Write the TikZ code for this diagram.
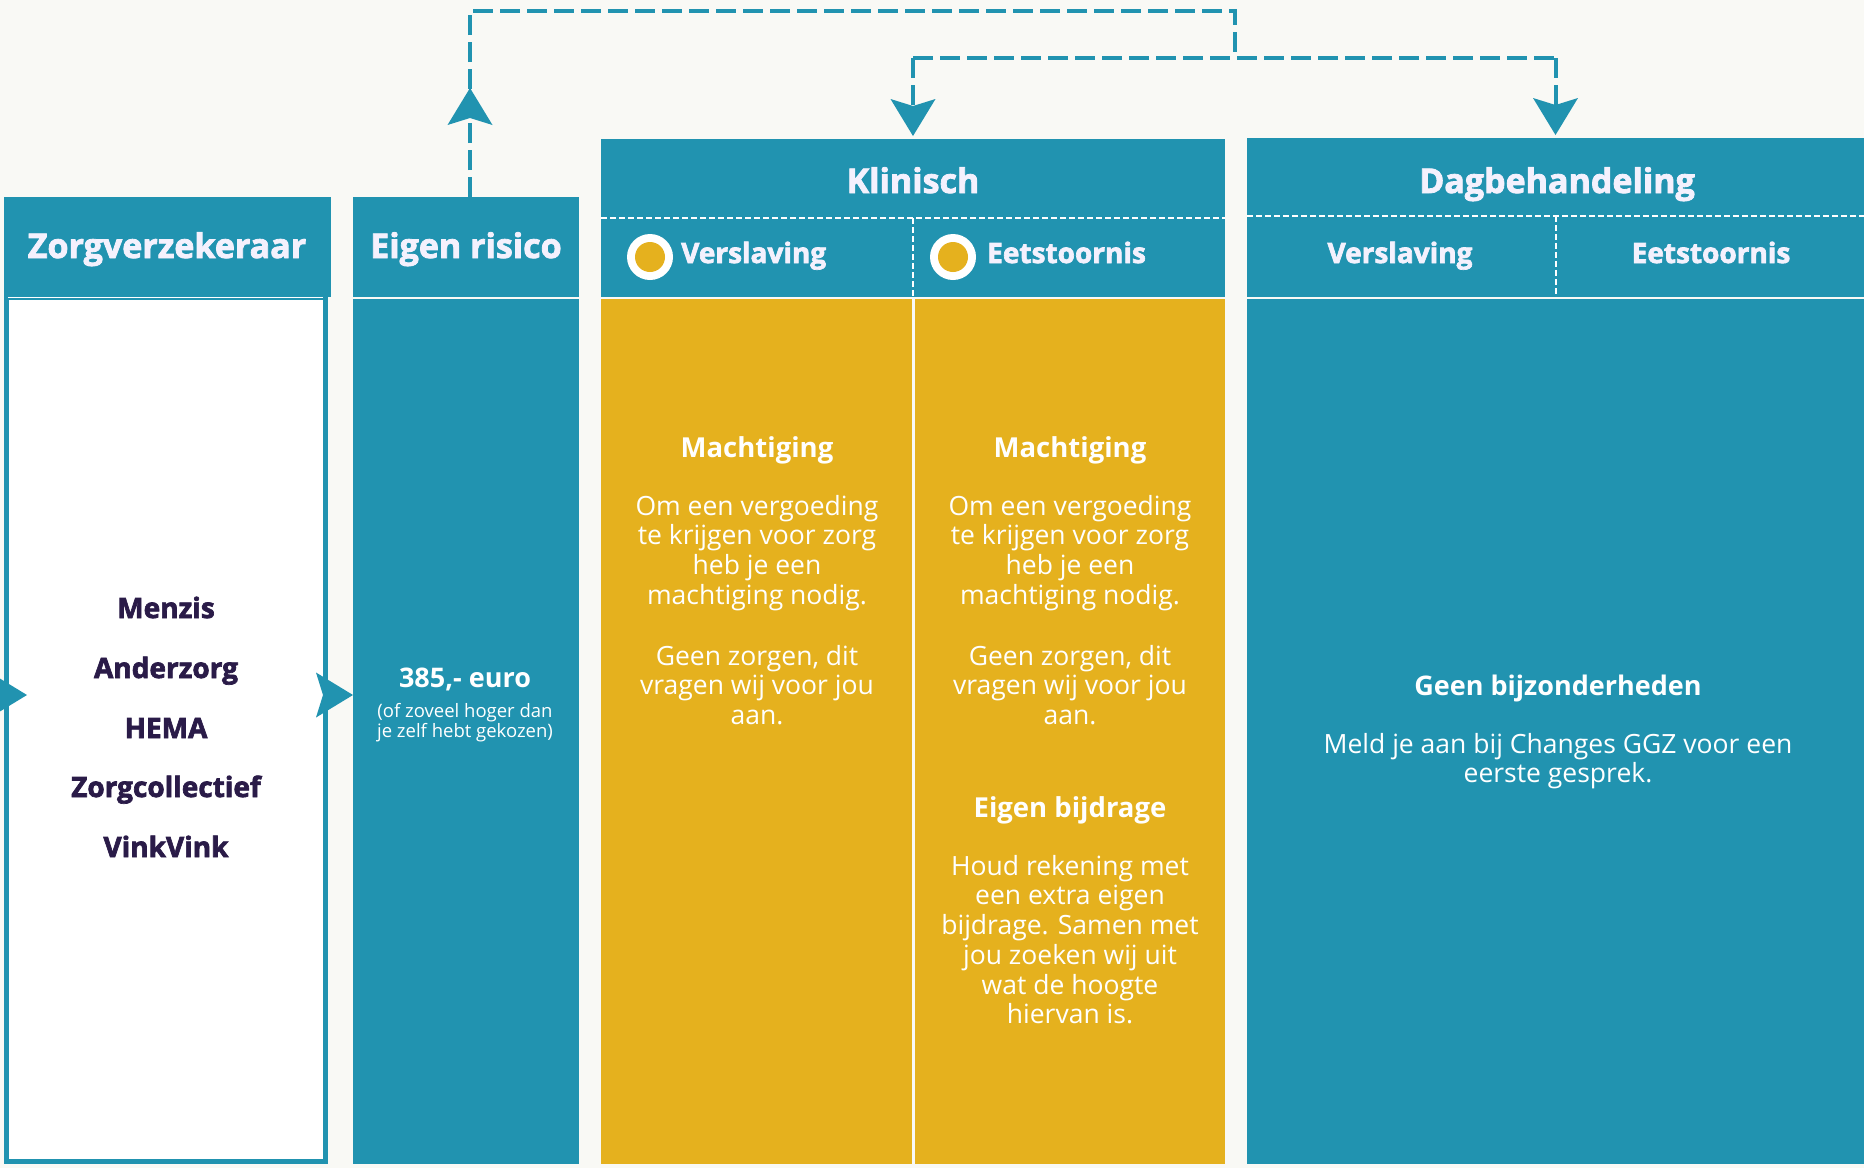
\documentclass[tikz,border=0pt]{standalone}
\usepackage{fontspec}
\setmainfont{Open Sans}
\newfontfamily\heavyfont{Open Sans}[BoldFeatures={FakeBold=2.4}]
\usetikzlibrary{arrows.meta,decorations.markings}
\definecolor{cteal}{HTML}{2193B0}
\definecolor{cyel}{HTML}{E5B11E}
\definecolor{cbg}{HTML}{F9F9F5}
\definecolor{cnavy}{HTML}{2A1B48}
\definecolor{ctxt}{HTML}{F4F1FD}
\newcommand\fsz[2]{\fontsize{#1}{#2}\selectfont}
\begin{document}
\begin{tikzpicture}[x=1pt,y=-1pt,
  box/.style={rectangle, inner sep=0pt, outer sep=0pt, draw=none},
  head/.style={box, fill=cteal},
  ttl/.style={text=ctxt, font=\heavyfont\bfseries\fsz{34}{40}, anchor=base, inner sep=0pt},
  sub/.style={text=ctxt, font=\heavyfont\bfseries\fsz{28}{34}, inner sep=0pt},
  lst/.style={text=cnavy, font=\heavyfont\bfseries\fsz{28}{34}, anchor=base, inner sep=0pt},
  bhead/.style={text=white, font=\bfseries\fsz{27.5}{32}, anchor=base, inner sep=0pt},
  para/.style={text=white, font=\fsz{26.5}{29.7}, align=center, anchor=north, inner sep=0pt},
  small/.style={text=white, font=\fsz{18.5}{20.5}, align=center, anchor=north, inner sep=0pt},
  sep/.style={white, line width=2pt, dash pattern=on 6pt off 3pt},
  conn/.style={cteal, line width=4pt, dash pattern=on 20pt off 7pt},
  arr/.style={cteal, line width=4pt, ->},
  >={Stealth[length=37pt,width=45pt,inset=7pt,line width=0pt]}
]
\useasboundingbox (0,0) rectangle (1864,1168);
\clip (0,0) rectangle (1864,1168);
\fill[cbg] (0,0) rectangle (1864,1168);

% Zorgverzekeraar
\node[box, fill=white, draw=cteal, line width=5pt, minimum width=319pt, minimum height=864pt] (zorgB) at (166,729.5) {};
\node[head, minimum width=327pt, minimum height=100pt] (zorgH) at (167.5,247) {};
\draw[white, line width=1pt] (8,297.5) -- (323,297.5);
\node[ttl] (zorgT) at (167,258) {Zorgverzekeraar};
\node[lst] (l1) at (166,618) {Menzis};
\node[lst] (l2) at (166,678) {Anderzorg};
\node[lst] (l3) at (166,738) {HEMA};
\node[lst] (l4) at (166,797) {Zorgcollectief};
\node[lst] (l5) at (166,857) {VinkVink};

% Eigen risico
\node[head, minimum width=226pt, minimum height=100pt] (eigenH) at (466,247) {};
\node[head, minimum width=226pt, minimum height=865pt] (eigenB) at (466,731.5) {};
\node[ttl] (eigenT) at (466,258) {Eigen risico};
\node[bhead, font=\bfseries\fsz{27}{32}] (euro) at (465,687) {385,- euro};
\node[small] (euroN) at (465,702.6) {\strut(of zoveel hoger dan\\je zelf hebt gekozen)};

% Klinisch
\node[head, minimum width=624pt, minimum height=158pt] (klinH) at (913,218) {};
\node[box, fill=cyel, minimum width=311pt, minimum height=865pt] (klinB1) at (756.5,731.5) {};
\node[box, fill=cyel, minimum width=310pt, minimum height=865pt] (klinB2) at (1070,731.5) {};
\draw[sep] (601,218) -- (1225,218);
\draw[sep] (913,218) -- (913,297);
\node[ttl] (klinT) at (913,193) {Klinisch};
\node[circle, fill=white, minimum size=46pt, inner sep=0pt] (c1) at (650,257) {};
\node[circle, fill=cyel, minimum size=30pt, inner sep=0pt] (c1i) at (650,257) {};
\node[circle, fill=white, minimum size=46pt, inner sep=0pt] (c2) at (953,257) {};
\node[circle, fill=cyel, minimum size=30pt, inner sep=0pt] (c2i) at (953,257) {};
\node[sub, anchor=base west] (kv) at (681,263) {Verslaving};
\node[sub, anchor=base west] (ke) at (987,263) {Eetstoornis};

\node[bhead] (m1) at (757,457) {Machtiging};
\node[para] (p1a) at (757,494.2) {\strut Om een vergoeding\\te krijgen voor zorg\\heb je een\\machtiging nodig.};
\node[para] (p1b) at (757,644.2) {\strut Geen zorgen, dit\\vragen wij voor jou\\aan.};
\node[bhead] (m2) at (1070,457) {Machtiging};
\node[para] (p2a) at (1070,494.2) {\strut Om een vergoeding\\te krijgen voor zorg\\heb je een\\machtiging nodig.};
\node[para] (p2b) at (1070,644.2) {\strut Geen zorgen, dit\\vragen wij voor jou\\aan.};
\node[bhead] (eb) at (1070,817) {Eigen bijdrage};
\node[para] (p2c) at (1070,854.2) {\strut Houd rekening met\\een extra eigen\\bijdrage. Samen met\\jou zoeken wij uit\\wat de hoogte\\hiervan is.};

% Dagbehandeling
\node[head, minimum width=617pt, minimum height=159pt] (dagH) at (1555.5,217.5) {};
\node[head, minimum width=617pt, minimum height=865pt] (dagB) at (1555.5,731.5) {};
\draw[sep] (1247,216) -- (1864,216);
\draw[sep] (1555.5,216) -- (1555.5,297);
\node[ttl] (dagT) at (1557,193) {Dagbehandeling};
\node[sub, anchor=base] (dv) at (1400,263) {Verslaving};
\node[sub, anchor=base] (de) at (1711,263) {Eetstoornis};
\node[bhead, font=\bfseries\fsz{27}{32}] (gb) at (1558,695) {Geen bijzonderheden};
\node[para] (dp) at (1558,732.2) {\strut Meld je aan bij Changes GGZ voor een\\eerste gesprek.};

% connectors
\coordinate (topL) at (470,11);
\coordinate (topR) at (1235,11);
\coordinate (mid) at (1235,58);
\coordinate (jL) at (913,58);
\coordinate (jR) at (1555.5,58);
\draw[conn, postaction={decorate}, decoration={markings, mark=at position 109pt with {\arrow{>}}}]
  ([xshift=4pt]eigenH.north) -- (topL) -- (topR) -- (mid);
\draw[conn] (jL) -- (jR);
\draw[conn, ->, shorten >=3pt] (jL) -- (klinH.north);
\draw[conn, ->, shorten >=3pt] (jR) -- (dagH.north);

\coordinate (inL) at (-15,695);
\coordinate (inTip) at (27,695);
\draw[arr] (inL) -- (inTip);
\draw[arr] (zorgB.east |- inTip) -- (eigenB.west |- inTip);
\end{tikzpicture}
\end{document}
